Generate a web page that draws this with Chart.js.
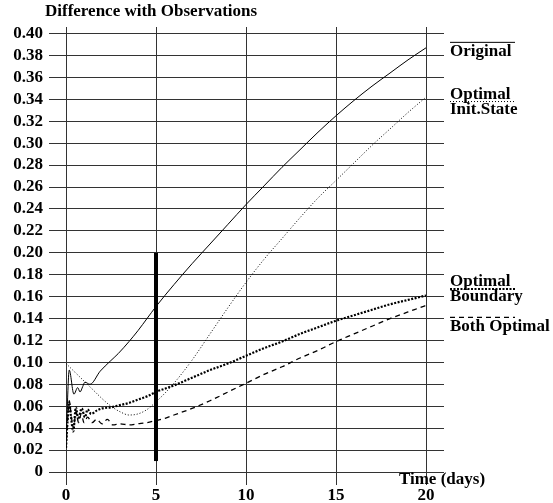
<!doctype html>
<html lang="en">
  <head>
    <meta charset="UTF-8">
    <title>Difference with Observations</title>
    <style>
      body { margin: 0; background: #fff; }
    </style>
  </head>
  <body>
    <div style="width: 553px; height: 503px;"><canvas id="myChart" width="553" height="503"></canvas></div>

    <script src="https://cdnjs.cloudflare.com/ajax/libs/Chart.js/4.4.1/chart.umd.min.js"></script>
    <script>
    // Data-----
    const origDays = [0, 0.05, 0.18, 0.44, 0.65, 0.78, 0.93, 1.05, 1.33, 1.9, 2.45, 2.9, 3.5, 4, 4.5, 5,
      6, 7, 8, 9, 10, 11, 12, 13, 14, 15, 16, 17, 18, 19, 20];
    const original = [0.027, 0.05, 0.093, 0.071, 0.077, 0.073, 0.078, 0.082, 0.080, 0.092, 0.101, 0.108, 0.119, 0.129, 0.140, 0.151,
      0.171, 0.190, 0.208, 0.226, 0.244, 0.261, 0.278, 0.294, 0.310, 0.325, 0.339, 0.352, 0.364, 0.376, 0.387];

    const initDays = [0, 0.5, 1, 1.5, 2, 2.5, 3, 3.5, 4, 4.5, 5, 5.5, 6, 7, 8, 9, 10,
      11, 12, 13, 14, 15, 16, 17, 18, 19, 20];
    const optInitState = [0.099, 0.091, 0.083, 0.075, 0.067, 0.060, 0.055, 0.052, 0.053, 0.057, 0.064, 0.072, 0.081, 0.102, 0.126, 0.150, 0.173,
      0.194, 0.213, 0.232, 0.250, 0.266, 0.282, 0.298, 0.313, 0.328, 0.342];

    const boundDays = [0, 0.08, 0.18, 0.28, 0.4, 0.55, 0.68, 0.87, 1.05, 1.2, 1.4, 1.7, 2, 2.5, 3, 3.5, 4, 4.5, 5,
      6, 7, 8, 9, 10, 11, 12, 13, 14, 15, 16, 17, 18, 19, 20];
    const optBoundary = [0.022, 0.045, 0.063, 0.050, 0.037, 0.059, 0.048, 0.058, 0.050, 0.057, 0.053, 0.056, 0.058, 0.059, 0.061, 0.063, 0.066, 0.069, 0.073,
      0.079, 0.086, 0.093, 0.099, 0.106, 0.113, 0.119, 0.126, 0.132, 0.138, 0.143, 0.148, 0.153, 0.157, 0.161];

    const bothDays = [0, 0.08, 0.18, 0.3, 0.42, 0.55, 0.7, 0.85, 1, 1.2, 1.45, 1.7, 2, 2.3, 2.6, 3, 3.5, 4, 4.5, 5, 5.5,
      6, 7, 8, 9, 10, 11, 12, 13, 14, 15, 16, 17, 18, 19, 20];
    const bothOptimal = [0.022, 0.045, 0.065, 0.050, 0.040, 0.055, 0.045, 0.053, 0.045, 0.050, 0.045, 0.048, 0.044, 0.048, 0.043, 0.044, 0.043, 0.044, 0.045, 0.047, 0.049,
      0.052, 0.058, 0.065, 0.073, 0.081, 0.089, 0.096, 0.104, 0.111, 0.119, 0.126, 0.133, 0.140, 0.146, 0.152];

    // thick vertical marker at day 5
    const markerDay = 5;
    const markerRange = [0.01, 0.20];

    const xTicks = [0, 5, 10, 15, 20];
    const yTicks = [0, 0.02, 0.04, 0.06, 0.08, 0.10, 0.12, 0.14, 0.16, 0.18, 0.20,
      0.22, 0.24, 0.26, 0.28, 0.30, 0.32, 0.34, 0.36, 0.38, 0.40];
    const yLabels = ['0', '0.02', '0.04', '0.06', '0.08', '0.10', '0.12', '0.14', '0.16', '0.18', '0.20',
      '0.22', '0.24', '0.26', '0.28', '0.30', '0.32', '0.34', '0.36', '0.38', '0.40'];

    // legend entries: label lines, value where the key line sits, dash
    const legendItems = [
      { lines: ['Original'], at: 0.392, above: true, dash: [], width: 1 },
      { lines: ['Optimal', 'Init.State'], at: 0.338, above: false, dash: [1, 2], width: 1 },
      { lines: ['Optimal', 'Boundary'], at: 0.167, above: false, dash: [2, 1.5], width: 2 },
      { lines: ['Both Optimal'], at: 0.141, above: true, dash: [5, 4], width: 1.2 }
    ];
    // Data-----

    const FONT = '"Liberation Serif", "Times New Roman", serif';
    const pts = (xs, ys) => xs.map((x, i) => ({ x: x, y: ys[i] }));

    const extras = {
      id: 'extras',
      afterDraw(chart) {
        const ctx = chart.ctx;
        const y = chart.scales.y;
        const x = chart.scales.x;
        ctx.save();
        ctx.fillStyle = '#000';
        ctx.font = 'bold 17px ' + FONT;
        ctx.textBaseline = 'middle';
        ctx.textAlign = 'left';
        ctx.fillText('Difference with Observations', 45, 12);

        ctx.textAlign = 'center';
        ctx.fillText('Time (days)', 442, y.getPixelForValue(0) + 8);

        ctx.textAlign = 'left';
        const lx = x.right + 6;
        legendItems.forEach(item => {
          const ly = y.getPixelForValue(item.at);
          ctx.strokeStyle = '#000';
          ctx.lineWidth = item.width;
          ctx.setLineDash(item.dash);
          ctx.beginPath();
          ctx.moveTo(lx, ly);
          ctx.lineTo(lx + 65, ly);
          ctx.stroke();
          ctx.setLineDash([]);
          if (item.above) {
            item.lines.forEach((t, k) => ctx.fillText(t, lx, ly + 9 + k * 16));
          } else {
            ctx.fillText(item.lines[0], lx, ly - 7);
            if (item.lines[1]) ctx.fillText(item.lines[1], lx, ly + 8);
          }
        });
        ctx.restore();
      }
    };

    const lineDefaults = {
      showLine: true,
      pointRadius: 0,
      borderColor: '#000',
      cubicInterpolationMode: 'monotone',
      fill: false
    };

    const config = {
      type: 'scatter',
      data: {
        datasets: [
          Object.assign({}, lineDefaults, { label: 'Original', data: pts(origDays, original), borderWidth: 1 }),
          Object.assign({}, lineDefaults, { label: 'Optimal Init.State', data: pts(initDays, optInitState), borderWidth: 1, borderDash: [1, 2] }),
          Object.assign({}, lineDefaults, { label: 'Optimal Boundary', data: pts(boundDays, optBoundary), borderWidth: 2.2, borderDash: [2, 1.5] }),
          Object.assign({}, lineDefaults, { label: 'Both Optimal', data: pts(bothDays, bothOptimal), borderWidth: 1.3, borderDash: [5, 4] }),
          Object.assign({}, lineDefaults, { label: 'marker', data: markerRange.map(v => ({ x: markerDay, y: v })), borderWidth: 4, cubicInterpolationMode: 'default' })
        ]
      },
      options: {
        responsive: false,
        animation: false,
        devicePixelRatio: 1,
        layout: { padding: { top: 27, right: 109, left: 0, bottom: 0 } },
        plugins: {
          legend: { display: false },
          tooltip: { enabled: false }
        },
        scales: {
          x: {
            type: 'linear',
            min: 0,
            max: 21,
            afterBuildTicks: s => { s.ticks = xTicks.map(v => ({ value: v })); },
            afterFit: s => { s.height = 31; },
            border: { display: false },
            grid: { color: '#333', lineWidth: 1, tickLength: 13 },
            ticks: {
              padding: 0,
              color: '#000',
              maxRotation: 0,
              autoSkip: false,
              font: { family: FONT, size: 17, weight: 'bold' }
            }
          },
          y: {
            type: 'linear',
            min: 0,
            max: 0.406,
            afterBuildTicks: s => { s.ticks = yTicks.map(v => ({ value: v })); },
            afterFit: s => { s.width = 66; },
            border: { display: false },
            grid: { color: '#333', lineWidth: 1, tickLength: 17 },
            ticks: {
              padding: 6,
              color: '#000',
              autoSkip: false,
              font: { family: FONT, size: 17, weight: 'bold' },
              callback: (v, i) => yLabels[i]
            }
          }
        }
      },
      plugins: [extras]
    };

    var myChart = new Chart(document.getElementById('myChart'), config);
    </script>
  </body>
</html>
